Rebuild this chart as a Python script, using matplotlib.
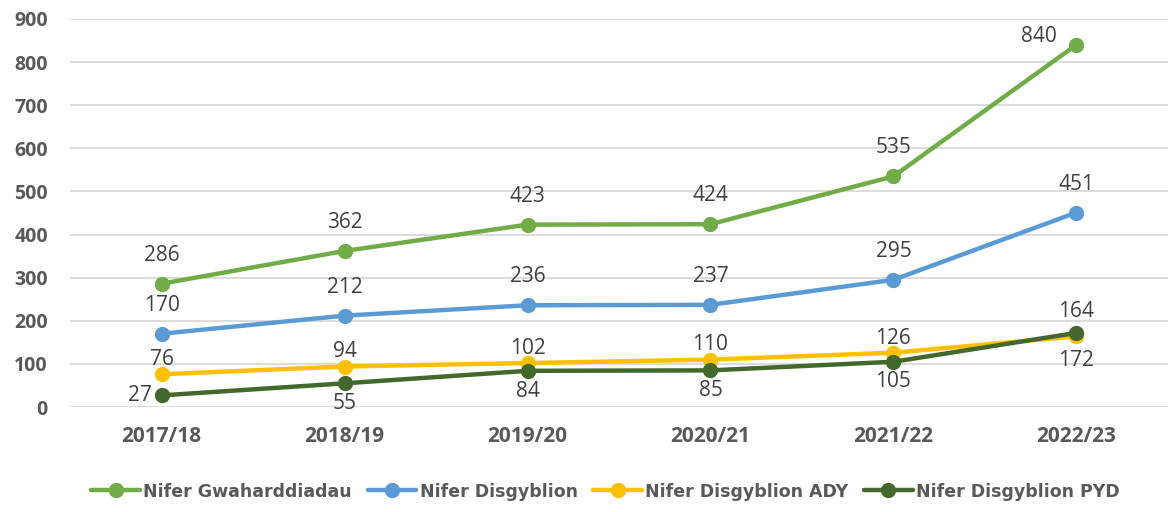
import matplotlib.pyplot as plt

blynyddoedd = ["2017/18", "2018/19", "2019/20", "2020/21", "2021/22", "2022/23"]
gwaharddiadau = [286, 362, 423, 424, 535, 840]
disgyblion = [170, 212, 236, 237, 295, 451]
disgyblion_ady = [76, 94, 102, 110, 126, 164]
disgyblion_pyd = [27, 55, 84, 85, 105, 172]

enwau = ["Nifer Gwaharddiadau", "Nifer Disgyblion", "Nifer Disgyblion ADY", "Nifer Disgyblion PYD"]
lliwiau = ["#70AD47", "#5B9BD5", "#FFC000", "#43682B"]

plt.rcParams['font.family'] = ['Open Sans', 'DejaVu Sans']

fig = plt.figure(figsize=(11.69, 5.12), dpi=100)
ax = fig.add_axes([0.06, 0.205, 0.939, 0.758])

x = list(range(len(blynyddoedd)))
cyfresi = [gwaharddiadau, disgyblion, disgyblion_ady, disgyblion_pyd]
for i, (vals, enw, lliw) in enumerate(zip(cyfresi, enwau, lliwiau)):
    ax.plot(x, vals, color=lliw, lw=3.2, marker='o', markersize=10,
            label=enw, zorder=3 + i, solid_capstyle='round')

lliw_testun = '#404040'
maint = 15
olaf = len(blynyddoedd) - 1

# labeli data
for i, v in enumerate(gwaharddiadau):
    if i == olaf:
        ax.annotate(str(v), (i, v), xytext=(-14, 6), textcoords='offset points',
                    ha='right', va='center', fontsize=maint, color=lliw_testun)
    else:
        ax.annotate(str(v), (i, v), xytext=(0, 13), textcoords='offset points',
                    ha='center', va='bottom', fontsize=maint, color=lliw_testun)
for i, v in enumerate(disgyblion):
    ax.annotate(str(v), (i, v), xytext=(0, 13), textcoords='offset points',
                ha='center', va='bottom', fontsize=maint, color=lliw_testun)
for i, v in enumerate(disgyblion_ady):
    dy = 10 if i == olaf else 3
    ax.annotate(str(v), (i, v), xytext=(0, dy), textcoords='offset points',
                ha='center', va='bottom', fontsize=maint, color=lliw_testun, zorder=10)
for i, v in enumerate(disgyblion_pyd):
    if i == 0:
        ax.annotate(str(v), (i, v), xytext=(-7, 0), textcoords='offset points',
                    ha='right', va='center', fontsize=maint, color=lliw_testun)
    else:
        dy = -12 if i == olaf else -7
        ax.annotate(str(v), (i, v), xytext=(0, dy), textcoords='offset points',
                    ha='center', va='top', fontsize=maint, color=lliw_testun)

ax.set_xlim(-0.5, len(blynyddoedd) - 0.5)
ax.set_ylim(0, 900)
ax.set_yticks(range(0, 901, 100))
ax.set_xticks(x)
ax.set_xticklabels(blynyddoedd)
ax.grid(axis='y', color='#D9D9D9', lw=1.3)
ax.set_axisbelow(True)
for s in ax.spines.values():
    s.set_visible(False)
ax.tick_params(length=0, labelcolor='#595959')
ax.tick_params(axis='y', pad=16, labelsize=14)
ax.tick_params(axis='x', pad=14, labelsize=15)
for t in ax.get_xticklabels() + ax.get_yticklabels():
    t.set_fontweight('bold')

leg = fig.legend(loc='center', bbox_to_anchor=(0.518, 0.04), ncol=4, frameon=False,
                 handlelength=2.8, columnspacing=0.9, handletextpad=0.2,
                 prop={'family': ['Liberation Sans Narrow', 'DejaVu Sans'],
                       'weight': 'bold', 'size': 12.5})
for t in leg.get_texts():
    t.set_color('#595959')

fig.savefig("out.png", dpi=100)
